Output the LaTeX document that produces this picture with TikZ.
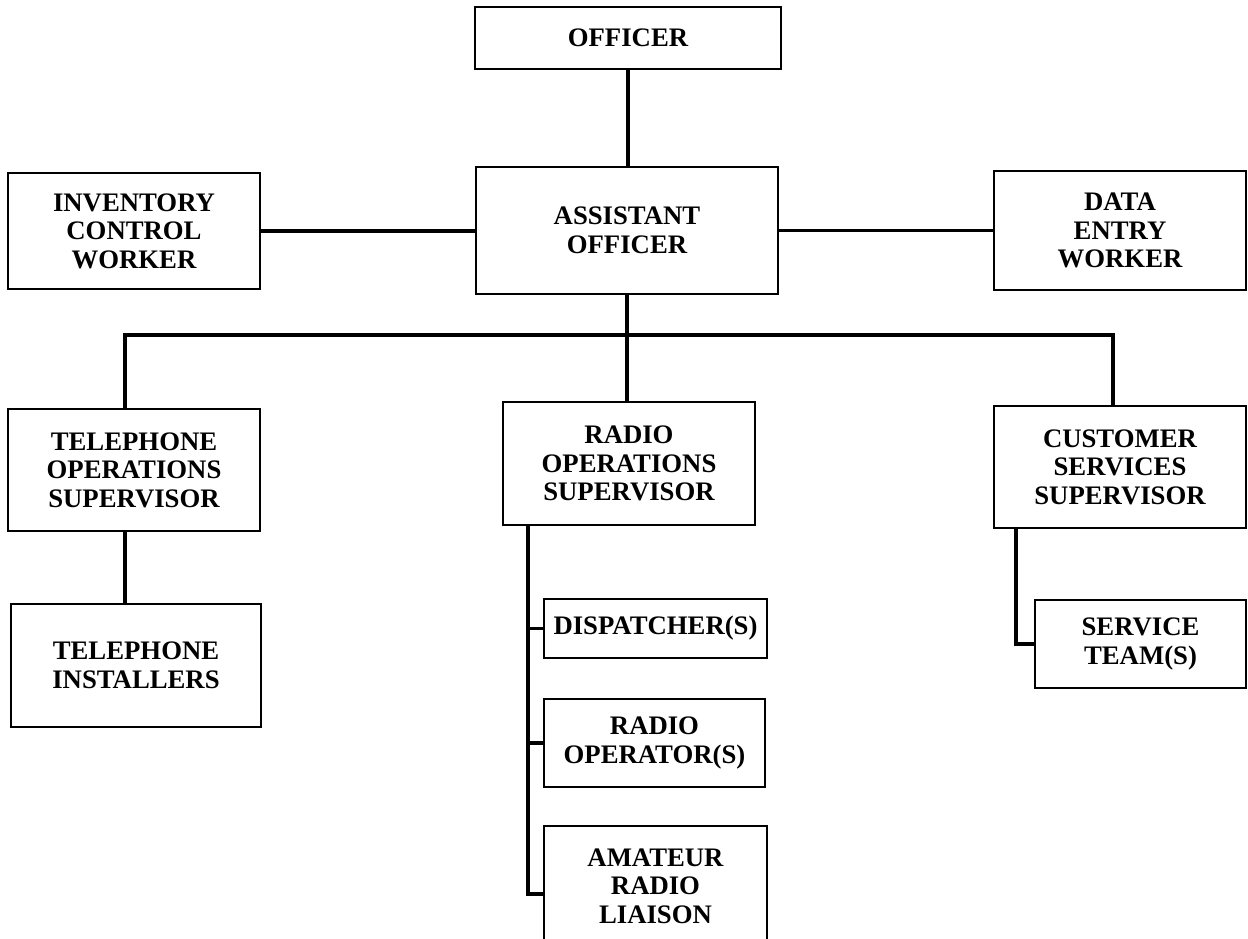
\documentclass[tikz,border=0pt]{standalone}
\usepackage{fontspec}
\setmainfont{Liberation Serif}
\usetikzlibrary{calc}

\begin{document}
\begin{tikzpicture}[x=0.01cm, y=-0.01cm,
	post/.style={draw, line width=0.6pt, align=center, inner sep=0pt,
		font=\bfseries\fontsize{7.6}{8.1}\selectfont},
	link/.style={line width=0.9pt}]
	
	\useasboundingbox (0,0) rectangle (1248,938);
	
	% top of the chart
	\node [post, minimum width=3.05cm, minimum height=0.62cm] (officer)  at ( 628, 38)   {OFFICER};
	\node [post, minimum width=3.02cm, minimum height=1.27cm] (asst)     at ( 627,230.5) {ASSISTANT\\OFFICER};
	\node [post, minimum width=2.51cm, minimum height=1.16cm] (inv)      at ( 134,231)   {INVENTORY\\CONTROL\\WORKER};
	\node [post, minimum width=2.51cm, minimum height=1.19cm] (data)     at (1120,230.5) {DATA\\ENTRY\\WORKER};
	
	% supervisors
	\node [post, minimum width=2.51cm, minimum height=1.22cm] (telops)   at ( 134,470)   {TELEPHONE\\OPERATIONS\\SUPERVISOR};
	\node [post, minimum width=2.52cm, minimum height=1.23cm] (radioops) at ( 629,463.5) {RADIO\\OPERATIONS\\SUPERVISOR};
	\node [post, minimum width=2.51cm, minimum height=1.22cm] (cust)     at (1120,467)   {CUSTOMER\\SERVICES\\SUPERVISOR};
	
	% staff
	\node [post, minimum width=2.50cm, minimum height=1.23cm] (telinst)  at ( 136,665.5) {TELEPHONE\\INSTALLERS};
	\node [post, minimum width=2.23cm, minimum height=0.59cm] (disp)     at (655.5,628.5){DISPATCHER(S)};
	\node [post, minimum width=2.21cm, minimum height=0.88cm] (radioop)  at (654.5,743)  {RADIO\\OPERATOR(S)};
	\node [post, minimum width=2.23cm, minimum height=1.20cm] (amateur)  at (655.5,886)  {AMATEUR\\RADIO\\LIAISON};
	\node [post, minimum width=2.11cm, minimum height=0.88cm] (service)  at (1140.5,644) {SERVICE\\TEAM(S)};
	
	% trunk lines
	\coordinate (bus)    at ( 627,335);
	\coordinate (busL)   at ( 125,335);
	\coordinate (busR)   at (1113,335);
	\coordinate (rtrunk) at ( 528,0);
	\coordinate (ctrunk) at (1016,0);
	\coordinate (amjoin) at ($(amateur.west)+(0,8)$);
	
	\draw [link] (officer.south) -- (officer.south |- asst.north);
	\draw [link] (inv.east)      -- (inv.east -| asst.west);
	\draw [link] (asst.east)     -- (asst.east -| data.west);
	
	\draw [link] (asst.south) -- (bus) -- (bus |- radioops.north);
	\draw [link] (telops.north -| busL) -- (busL) -- (busR) -- (busR |- cust.north);
	
	\draw [link] (telops.south -| busL) -- (telinst.north -| busL);
	
	\draw [link] (radioops.south -| rtrunk) -- (amjoin -| rtrunk) -- (amjoin);
	\draw [link] (disp.west -| rtrunk)    -- (disp.west);
	\draw [link] (radioop.west -| rtrunk) -- (radioop.west);
	
	\draw [link] (cust.south -| ctrunk) -- (service.west -| ctrunk) -- (service.west);
	
\end{tikzpicture}
\end{document}
